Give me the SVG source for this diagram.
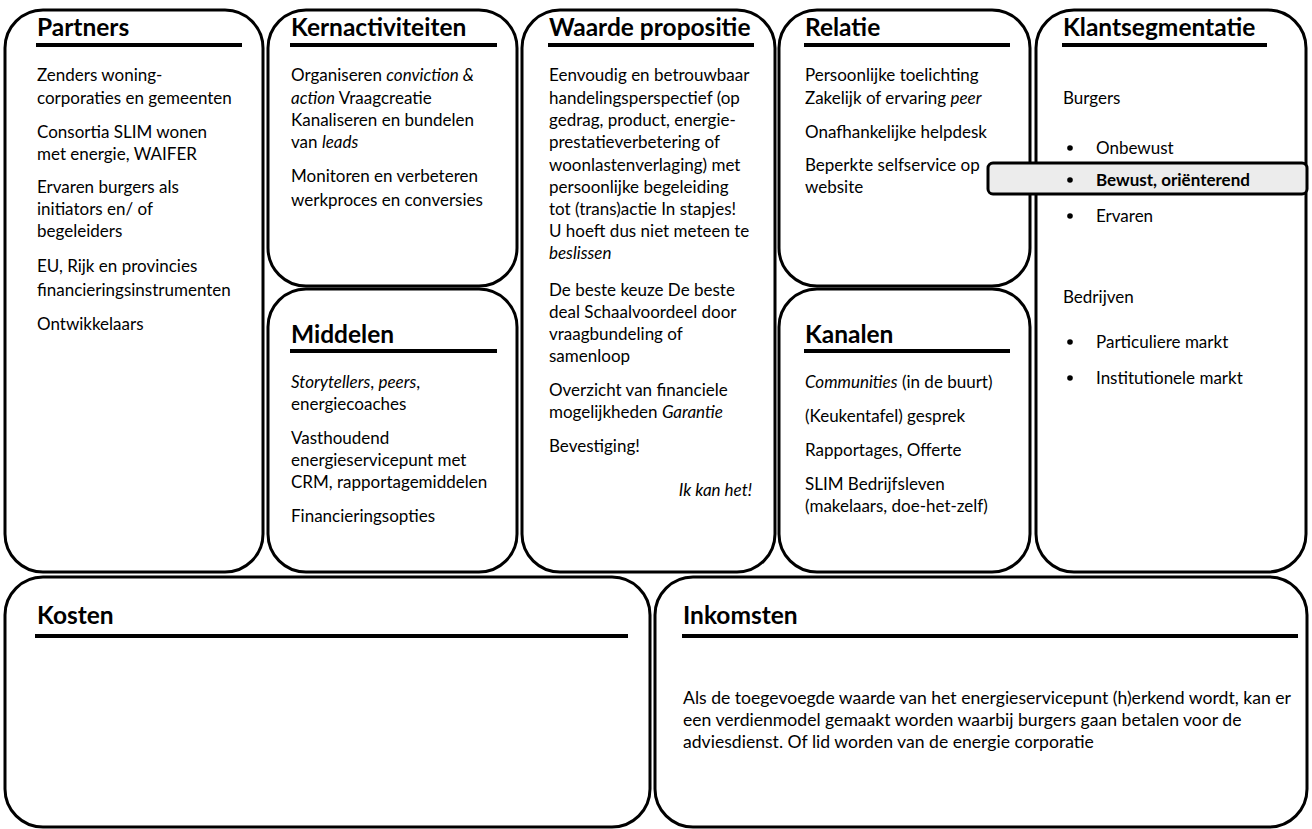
<svg xmlns="http://www.w3.org/2000/svg" width="1312" height="829" viewBox="0 0 1312 829">
<style>
.box{fill:#fff;stroke:#000;stroke-width:3}
.ul{stroke:#000;stroke-width:4}
.t{font-family:Lato,"Liberation Sans",sans-serif;font-weight:700;font-size:24.5px;fill:#000}
.b{font-family:Lato,"Liberation Sans",sans-serif;font-size:17px;fill:#000}
.bi{font-size:17.6px}
.bb{font-weight:700}
.i{font-style:italic}
</style>
<rect width="1312" height="829" fill="#fff"/>
<g id="partners">
<rect class="box" x="5" y="10" width="258" height="562" rx="38"/>
<text class="t" x="37" y="36">Partners</text>
<line class="ul" x1="36" y1="45" x2="242" y2="45"/>
<text class="b" x="37" y="81">Zenders  woning-</text>
<text class="b" x="37" y="104">corporaties en gemeenten</text>
<text class="b" x="37" y="138">Consortia  SLIM wonen</text>
<text class="b" x="37" y="160">met energie, WAIFER</text>
<text class="b" x="37" y="193">Ervaren burgers als</text>
<text class="b" x="37" y="215">initiators en/ of</text>
<text class="b" x="37" y="237">begeleiders</text>
<text class="b" x="37" y="272">EU, Rijk en provincies</text>
<text class="b" x="37" y="296">financieringsinstrumenten</text>
<text class="b" x="37" y="330">Ontwikkelaars</text>
</g>
<g id="kernactiviteiten">
<rect class="box" x="268" y="10" width="249" height="276" rx="38"/>
<text class="t" x="291" y="36">Kernactiviteiten</text>
<line class="ul" x1="290" y1="45" x2="497" y2="45"/>
<text class="b" x="291" y="81">Organiseren <tspan class="i">conviction &amp;</tspan></text>
<text class="b" x="291" y="104"><tspan class="i">action</tspan>  Vraagcreatie</text>
<text class="b" x="291" y="126">Kanaliseren en bundelen</text>
<text class="b" x="291" y="148">van <tspan class="i">leads</tspan></text>
<text class="b" x="291" y="182">Monitoren en verbeteren</text>
<text class="b" x="291" y="206">werkproces en conversies</text>
</g>
<g id="middelen">
<rect class="box" x="268" y="289" width="249" height="283" rx="38"/>
<text class="t" x="291" y="343">Middelen</text>
<line class="ul" x1="290" y1="351" x2="497" y2="351"/>
<text class="b" x="291" y="388"><tspan class="i">Storytellers</tspan>, <tspan class="i">peers</tspan>,</text>
<text class="b" x="291" y="410">energiecoaches</text>
<text class="b" x="291" y="444">Vasthoudend</text>
<text class="b" x="291" y="466">energieservicepunt met</text>
<text class="b" x="291" y="488">CRM, rapportagemiddelen</text>
<text class="b" x="291" y="522">Financieringsopties</text>
</g>
<g id="waarde">
<rect class="box" x="522" y="10" width="253" height="562" rx="38"/>
<text class="t" x="549" y="36">Waarde propositie</text>
<line class="ul" x1="548" y1="45" x2="754" y2="45"/>
<text class="b" x="549" y="81">Eenvoudig en betrouwbaar</text>
<text class="b" x="549" y="104">handelingsperspectief (op</text>
<text class="b" x="549" y="126">gedrag, product, energie-</text>
<text class="b" x="549" y="148">prestatieverbetering of</text>
<text class="b" x="549" y="171">woonlastenverlaging) met</text>
<text class="b" x="549" y="193">persoonlijke begeleiding</text>
<text class="b" x="549" y="215">tot (trans)actie  In stapjes!</text>
<text class="b" x="549" y="237">U hoeft dus niet meteen te</text>
<text class="b i" x="549" y="259">beslissen</text>
<text class="b" x="549" y="296">De beste keuze  De beste</text>
<text class="b" x="549" y="318">deal  Schaalvoordeel door</text>
<text class="b" x="549" y="340">vraagbundeling of</text>
<text class="b" x="549" y="362">samenloop</text>
<text class="b" x="549" y="396">Overzicht van financiele</text>
<text class="b" x="549" y="418">mogelijkheden  <tspan class="i">Garantie</tspan></text>
<text class="b" x="549" y="452">Bevestiging!</text>
<text class="b i" x="752" y="496" text-anchor="end">Ik kan het!</text>
</g>
<g id="relatie">
<rect class="box" x="779" y="10" width="251" height="276" rx="38"/>
<text class="t" x="805" y="36">Relatie</text>
<line class="ul" x1="804" y1="45" x2="1010" y2="45"/>
<text class="b" x="805" y="81">Persoonlijke toelichting</text>
<text class="b" x="805" y="104">Zakelijk of ervaring <tspan class="i">peer</tspan></text>
<text class="b" x="805" y="138">Onafhankelijke helpdesk</text>
<text class="b" x="805" y="171">Beperkte selfservice op</text>
<text class="b" x="805" y="193">website</text>
</g>
<g id="kanalen">
<rect class="box" x="779" y="289" width="251" height="283" rx="38"/>
<text class="t" x="805" y="343">Kanalen</text>
<line class="ul" x1="804" y1="351" x2="1010" y2="351"/>
<text class="b" x="805" y="388"><tspan class="i">Communities</tspan> (in de buurt)</text>
<text class="b" x="805" y="422">(Keukentafel) gesprek</text>
<text class="b" x="805" y="456">Rapportages, Offerte</text>
<text class="b" x="805" y="490">SLIM Bedrijfsleven</text>
<text class="b" x="805" y="512">(makelaars, doe-het-zelf)</text>
</g>
<g id="klantsegmentatie">
<rect class="box" x="1036" y="10" width="270" height="562" rx="38"/>
<text class="t" x="1063" y="36">Klantsegmentatie</text>
<line class="ul" x1="1062" y1="45" x2="1267" y2="45"/>
<text class="b" x="1063" y="104">Burgers</text>
<circle cx="1070" cy="148" r="2.8"/>
<text class="b" x="1096" y="154">Onbewust</text>
<rect x="988" y="163" width="319" height="31" rx="5" fill="#ececec" stroke="#000" stroke-width="3"/>
<circle cx="1070" cy="180" r="2.8"/>
<text class="b bb" x="1096" y="186">Bewust, oriënterend</text>
<circle cx="1070" cy="216" r="2.8"/>
<text class="b" x="1096" y="222">Ervaren</text>
<text class="b" x="1063" y="303">Bedrijven</text>
<circle cx="1070" cy="342" r="2.8"/>
<text class="b" x="1096" y="348">Particuliere markt</text>
<circle cx="1070" cy="378" r="2.8"/>
<text class="b" x="1096" y="384">Institutionele markt</text>
</g>
<g id="kosten">
<rect class="box" x="5" y="577" width="645" height="250" rx="38"/>
<text class="t" x="37" y="624">Kosten</text>
<line class="ul" x1="35" y1="636" x2="628" y2="636"/>
</g>
<g id="inkomsten">
<rect class="box" x="655" y="577" width="652" height="250" rx="38"/>
<text class="t" x="683" y="624">Inkomsten</text>
<line class="ul" x1="682" y1="636" x2="1298" y2="636"/>
<text class="b bi" x="683" y="704">Als de toegevoegde waarde van het energieservicepunt (h)erkend wordt, kan er</text>
<text class="b bi" x="683" y="726">een verdienmodel gemaakt worden waarbij burgers gaan betalen voor de</text>
<text class="b bi" x="683" y="748">adviesdienst. Of lid worden van de energie corporatie</text>
</g>
<g id="connectors"/>
</svg>
